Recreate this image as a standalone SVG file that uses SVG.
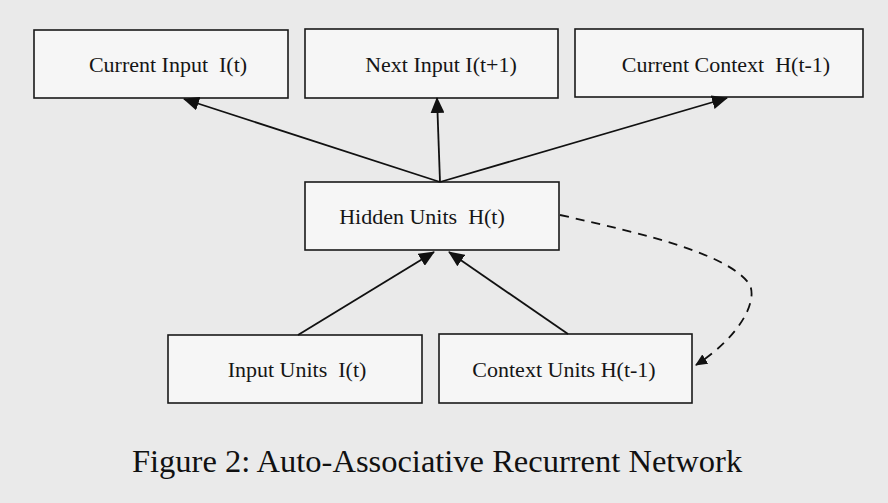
<svg xmlns="http://www.w3.org/2000/svg" width="888" height="503" viewBox="0 0 888 503">
<style>
.box{fill:#f6f6f6;stroke:#1a1a1a;stroke-width:1.6}
.lbl{font-family:"Liberation Serif",serif;font-size:22px;fill:#151515;text-anchor:middle;white-space:pre}
.edge{fill:none;stroke:#111;stroke-width:1.8}
.dash{fill:none;stroke:#111;stroke-width:1.8;stroke-dasharray:9 7}
.cap{font-family:"Liberation Serif",serif;font-size:32.5px;fill:#111}
</style>
<defs>
<marker id="ah" viewBox="0 0 16 14" refX="15" refY="7" markerWidth="16" markerHeight="14" markerUnits="userSpaceOnUse" orient="auto">
<path d="M0,0 L16,7 L0,14 Z" fill="#111"/>
</marker>
<marker id="ahs" viewBox="0 0 12 11" refX="11" refY="5.5" markerWidth="12" markerHeight="11" markerUnits="userSpaceOnUse" orient="auto">
<path d="M0,0 L12,5.5 L0,11 Z" fill="#111"/>
</marker>
</defs>
<rect width="888" height="503" fill="#eaeaea"/>
<g id="current-input"><rect class="box" x="34" y="30" width="254" height="68"/><text class="lbl" x="168" y="72" xml:space="preserve">Current Input  I(t)</text></g>
<g id="next-input"><rect class="box" x="305" y="29" width="253" height="69"/><text class="lbl" x="441" y="72">Next Input I(t+1)</text></g>
<g id="current-context"><rect class="box" x="575" y="29" width="288" height="68"/><text class="lbl" x="726" y="72" xml:space="preserve">Current Context  H(t-1)</text></g>
<g id="hidden-units"><rect class="box" x="305" y="182" width="254" height="68"/><text class="lbl" x="422" y="224" xml:space="preserve">Hidden Units  H(t)</text></g>
<g id="input-units"><rect class="box" x="168" y="335" width="254" height="68"/><text class="lbl" x="297" y="377" xml:space="preserve">Input Units  I(t)</text></g>
<g id="context-units"><rect class="box" x="439" y="334" width="253" height="69"/><text class="lbl" x="564" y="377">Context Units H(t-1)</text></g>
<g id="connectors">
<line class="edge" x1="440" y1="182" x2="184" y2="99" marker-end="url(#ah)"/>
<line class="edge" x1="440" y1="182" x2="437" y2="98" marker-end="url(#ah)"/>
<line class="edge" x1="440" y1="182" x2="727" y2="98" marker-end="url(#ah)"/>
<line class="edge" x1="298" y1="335" x2="434" y2="252" marker-end="url(#ah)"/>
<line class="edge" x1="568" y1="334" x2="449" y2="252" marker-end="url(#ah)"/>
<path class="dash" d="M560,215 C650,235 730,255 750,285 C758,305 735,340 696,365" marker-end="url(#ahs)"/>
</g>
<text class="cap" x="132" y="472">Figure 2: Auto-Associative Recurrent Network</text>
</svg>
